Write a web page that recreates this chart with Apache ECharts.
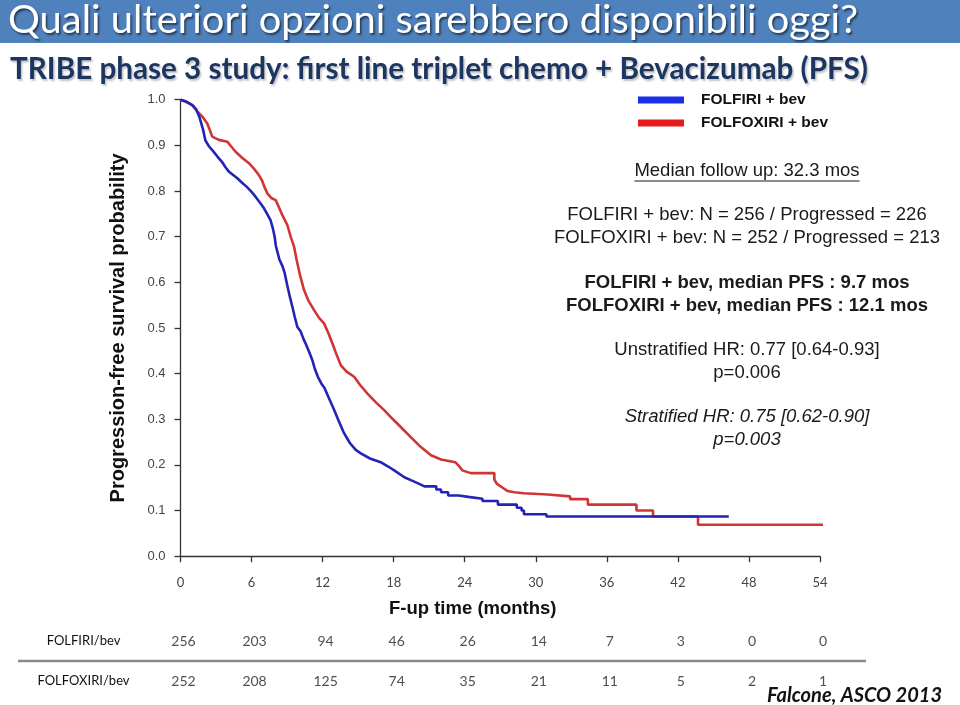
<!DOCTYPE html>
<html><head><meta charset="utf-8">
<script src="https://cdn.jsdelivr.net/npm/echarts@6/dist/echarts.min.js"></script>
<style>html,body{margin:0;padding:0;background:#fff}#c{width:960px;height:705px}</style>
</head><body><div id="c"></div>
<script>
// ---------- DATA (vertices of the drawn Kaplan-Meier curves) ----------
const titleText = 'Quali ulteriori opzioni sarebbero disponibili oggi?';
const subtitleText = 'TRIBE phase 3 study: first line triplet chemo + Bevacizumab (PFS)';
const seriesNames = ['FOLFIRI + bev', 'FOLFOXIRI + bev'];
const yAxisName = 'Progression-free survival probability';
const xAxisName = 'F-up time (months)';
const xTickValues = [0, 6, 12, 18, 24, 30, 36, 42, 48, 54];

const folfiriTime = [0, 0.5, 1.0, 1.3, 1.6, 1.9, 2.1, 2.4, 2.7, 3.1, 3.5, 3.8, 4.1, 4.5, 4.8, 5.2, 5.6, 6.0, 6.35, 6.7, 7.05, 7.35, 7.6, 7.8, 7.95, 8.05, 8.2, 8.35, 8.6, 8.8, 9.0, 9.2, 9.45, 9.65, 9.87, 10.15, 10.4, 10.6, 10.9, 11.15, 11.35, 11.6, 11.9, 12.15, 12.5, 12.95, 13.3, 13.8, 14.3, 14.8, 15.3, 16.0, 16.9, 17.5, 18.05, 18.9, 19.5, 20.2, 20.6,
  21.6, 21.6, 22.0, 22.0, 22.6, 22.6, 23.5, 23.5, 24.3, 24.3, 25.5, 25.5, 26.8, 26.8, 28.4, 28.4, 28.8, 28.8, 29.0, 29.0, 30.9, 30.9, 46.3];
const folfiriSurv = [1.0, 0.996, 0.988, 0.980, 0.962, 0.935, 0.911, 0.898, 0.889, 0.876, 0.864, 0.852, 0.842, 0.834, 0.828, 0.818, 0.809, 0.798, 0.787, 0.775, 0.762, 0.748, 0.736, 0.718, 0.700, 0.680, 0.665, 0.650, 0.636, 0.620, 0.595, 0.572, 0.546, 0.524, 0.502, 0.492, 0.475, 0.464, 0.445, 0.428, 0.410, 0.393, 0.378, 0.369, 0.348, 0.322, 0.300, 0.270, 0.248, 0.233, 0.224, 0.214, 0.206, 0.197, 0.188, 0.173, 0.166, 0.158, 0.153,
  0.153, 0.146, 0.146, 0.140, 0.140, 0.133, 0.133, 0.130, 0.130, 0.126, 0.126, 0.121, 0.121, 0.113, 0.113, 0.106, 0.106, 0.100, 0.100, 0.092, 0.092, 0.087, 0.087];

const folfoxiriTime = [0, 0.4, 0.99, 1.4, 1.84, 2.26, 2.5, 2.68, 3.24, 3.95, 4.3, 4.65, 5.2, 5.78, 6.2, 6.62, 6.9, 7.1, 7.33, 7.7, 8.04, 8.3, 8.6, 9.03, 9.3, 9.59, 9.8, 10.1, 10.43, 10.8, 11.28, 11.7, 12.12, 12.5, 12.83, 13.2, 13.54, 14.0, 14.66, 15.2, 15.79, 16.5, 17.2, 17.9, 18.6, 19.4, 20.3, 21.15, 22.0, 23.2, 23.6, 23.8, 24.5,
  26.5, 26.5, 26.7, 27.2, 27.6, 28.2, 29.0, 29.0, 31.0, 31.0, 32.9, 32.9, 34.4, 34.4, 38.5, 38.5, 39.9, 39.9, 43.7, 43.7, 54.4];
const folfoxiriSurv = [1.0, 0.996, 0.988, 0.975, 0.963, 0.948, 0.932, 0.919, 0.912, 0.908, 0.897, 0.886, 0.873, 0.861, 0.849, 0.835, 0.822, 0.808, 0.795, 0.784, 0.780, 0.765, 0.747, 0.725, 0.700, 0.678, 0.650, 0.615, 0.583, 0.560, 0.539, 0.522, 0.510, 0.488, 0.466, 0.440, 0.418, 0.405, 0.393, 0.374, 0.356, 0.337, 0.320, 0.301, 0.283, 0.262, 0.239, 0.221, 0.212, 0.206, 0.195, 0.188, 0.182,
  0.182, 0.168, 0.159, 0.150, 0.143, 0.140, 0.138, 0.135, 0.135, 0.131, 0.131, 0.125, 0.125, 0.113, 0.113, 0.100, 0.100, 0.087, 0.087, 0.069, 0.069];

const riskRowLabels = ['FOLFIRI/bev', 'FOLFOXIRI/bev'];
const riskFolfiri = [256, 203, 94, 46, 26, 14, 7, 3, 0, 0];
const riskFolfoxiri = [252, 208, 125, 74, 35, 21, 11, 5, 2, 1];

const followUpText = 'Median follow up: 32.3 mos';
const nLines = ['FOLFIRI + bev: N = 256 / Progressed = 226', 'FOLFOXIRI + bev: N = 252 / Progressed = 213'];
const medianLines = ['FOLFIRI + bev, median PFS : 9.7 mos', 'FOLFOXIRI + bev, median PFS : 12.1 mos'];
const unstratLines = ['Unstratified HR: 0.77 [0.64-0.93]', 'p=0.006'];
const stratLines = ['Stratified HR: 0.75 [0.62-0.90]', 'p=0.003'];
const sourceText = 'Falcone, ASCO 2013';

// ---------- STYLE / LAYOUT ----------
const BLUE = '#2323b6', RED = '#d23434';
const LEG_BLUE = '#1a2ee8', LEG_RED = '#e61c1c';
const ARIAL = '"Liberation Sans", Arial, sans-serif';
const CAL = 'Lato, "Open Sans", sans-serif';
const gridL = 180.5, gridR = 960 - 820, gridT = 99.7, gridB = 705 - 556.2;

const mctx = document.createElement('canvas').getContext('2d');
function measure(text, font) { mctx.font = font; return mctx.measureText(text).width; }
function fitScale(text, font, target) { return target / measure(text, font); }
function zipPts(t, s) { return t.map((v, i) => [v, s[i]]); }

const titleFont = 'normal 38px ' + CAL;
const subFont = 'bold 31px ' + CAL;
const srcFont = 'italic bold 20px ' + CAL;

function txt(text, x, y, opts) {
  return {
    type: 'text', x: x, y: y,
    style: Object.assign({ text: text, textAlign: 'center', textVerticalAlign: 'middle', fill: '#1a1a1a', font: 'normal 15px ' + ARIAL }, opts || {})
  };
}

const annFont = 'normal 18.5px ' + ARIAL;
const annBold = 'bold 18.5px ' + ARIAL;
const annItal = 'italic 18.5px ' + ARIAL;
const fuW = measure(followUpText, annFont);
const AX = 747;

const graphics = [
  { type: 'rect', shape: { x: 0, y: 0, width: 960, height: 43 }, style: { fill: '#4f81bd' }, z: 0 },
  { type: 'text', x: 8, y: 21, scaleX: fitScale(titleText, titleFont, 850),
    style: { text: titleText, font: titleFont, fill: '#ffffff', textAlign: 'left', textVerticalAlign: 'middle',
      textShadowColor: 'rgba(0,0,0,0.55)', textShadowBlur: 2, textShadowOffsetX: 1.5, textShadowOffsetY: 1.5 } },
  { type: 'text', x: 10, y: 69, scaleX: fitScale(subtitleText, subFont, 858),
    style: { text: subtitleText, font: subFont, fill: '#1c3661', textAlign: 'left', textVerticalAlign: 'middle',
      textShadowColor: 'rgba(120,120,120,0.45)', textShadowBlur: 2, textShadowOffsetX: 1.5, textShadowOffsetY: 1.5 } },
  txt(followUpText, AX, 171, { font: annFont }),
  { type: 'line', shape: { x1: AX - fuW / 2, y1: 181, x2: AX + fuW / 2, y2: 181 }, style: { stroke: '#1a1a1a', lineWidth: 1 } },
  txt(nLines[0], AX, 215, { font: annFont }),
  txt(nLines[1], AX, 238, { font: annFont }),
  txt(medianLines[0], AX, 283, { font: annBold }),
  txt(medianLines[1], AX, 306, { font: annBold }),
  txt(unstratLines[0], AX, 350, { font: annFont }),
  txt(unstratLines[1], AX, 373, { font: annFont }),
  txt(stratLines[0], AX, 417, { font: annItal }),
  txt(stratLines[1], AX, 440, { font: annItal }),
  { type: 'line', shape: { x1: 18, y1: 661, x2: 866, y2: 661 }, style: { stroke: '#8a8a8a', lineWidth: 2.5 } },
  { type: 'text', x: 767, y: 696, scaleX: fitScale(sourceText, srcFont, 175),
    style: { text: sourceText, font: srcFont, fill: '#111', textAlign: 'left', textVerticalAlign: 'middle' } }
];

function riskData(row, vals) { return vals.map((v, i) => [xTickValues[i], row, v]); }

const chart = echarts.init(document.getElementById('c'), null, { renderer: 'canvas' });
chart.setOption({
  backgroundColor: '#ffffff',
  animation: false,
  legend: {
    orient: 'vertical', left: 633, top: 87, itemWidth: 46, itemHeight: 7, itemGap: 7, icon: 'rect',
    textStyle: { fontFamily: ARIAL, fontWeight: 'bold', fontSize: 15.5, color: '#111', padding: [0, 0, 0, 12] },
    data: [
      { name: seriesNames[0], itemStyle: { color: LEG_BLUE } },
      { name: seriesNames[1], itemStyle: { color: LEG_RED } }
    ]
  },
  grid: [
    { left: gridL, right: gridR, top: gridT, bottom: gridB, containLabel: false },
    { left: gridL, right: gridR, top: 621, height: 80, containLabel: false }
  ],
  xAxis: [
    { type: 'value', gridIndex: 0, min: 0, max: 54, interval: 6, offset: 5,
      name: xAxisName, nameLocation: 'middle', nameGap: 38,
      nameTextStyle: { fontFamily: ARIAL, fontWeight: 'bold', fontSize: 18.5, color: '#111', padding: [0, 55, 0, 0] },
      axisLine: { lineStyle: { color: '#333', width: 1.3 } },
      axisTick: { length: 6, lineStyle: { color: '#333', width: 1.3 } },
      axisLabel: { margin: 15, fontFamily: CAL, fontSize: 13, color: '#444' },
      splitLine: { show: false } },
    { type: 'value', gridIndex: 1, min: 0, max: 54, show: false }
  ],
  yAxis: [
    { type: 'value', gridIndex: 0, min: 0, max: 1, interval: 0.1, offset: 3,
      name: yAxisName, nameLocation: 'middle', nameRotate: 90, nameGap: 49,
      nameTextStyle: { fontFamily: ARIAL, fontWeight: 'bold', fontSize: 20, color: '#111' },
      axisLine: { lineStyle: { color: '#333', width: 1.3 } },
      axisTick: { length: 6, lineStyle: { color: '#333', width: 1.3 } },
      axisLabel: { margin: 12, fontFamily: ARIAL, fontSize: 13, color: '#444', formatter: v => v.toFixed(1) },
      splitLine: { show: false } },
    { type: 'category', gridIndex: 1, data: riskRowLabels, inverse: true,
      axisLine: { show: false }, axisTick: { show: false }, splitLine: { show: false },
      axisLabel: { align: 'center', margin: 97, fontFamily: CAL, fontSize: 13, color: '#111' } }
  ],
  series: [
    { name: seriesNames[0], type: 'line', xAxisIndex: 0, yAxisIndex: 0, showSymbol: false, clip: false,
      data: zipPts(folfiriTime, folfiriSurv), lineStyle: { color: BLUE, width: 2.6 }, itemStyle: { color: LEG_BLUE }, z: 3 },
    { name: seriesNames[1], type: 'line', xAxisIndex: 0, yAxisIndex: 0, showSymbol: false, clip: false,
      data: zipPts(folfoxiriTime, folfoxiriSurv), lineStyle: { color: RED, width: 2.6 }, itemStyle: { color: LEG_RED }, z: 2 },
    { type: 'scatter', xAxisIndex: 1, yAxisIndex: 1, symbolSize: 1, itemStyle: { color: 'rgba(0,0,0,0)' }, silent: true,
      data: riskData(riskRowLabels[0], riskFolfiri),
      label: { show: true, position: 'inside', offset: [3, 0], formatter: p => String(p.value[2]), fontFamily: CAL, fontSize: 14, color: '#222' } },
    { type: 'scatter', xAxisIndex: 1, yAxisIndex: 1, symbolSize: 1, itemStyle: { color: 'rgba(0,0,0,0)' }, silent: true,
      data: riskData(riskRowLabels[1], riskFolfoxiri),
      label: { show: true, position: 'inside', offset: [3, 0], formatter: p => String(p.value[2]), fontFamily: CAL, fontSize: 14, color: '#222' } }
  ],
  graphic: graphics
});
</script></body></html>
